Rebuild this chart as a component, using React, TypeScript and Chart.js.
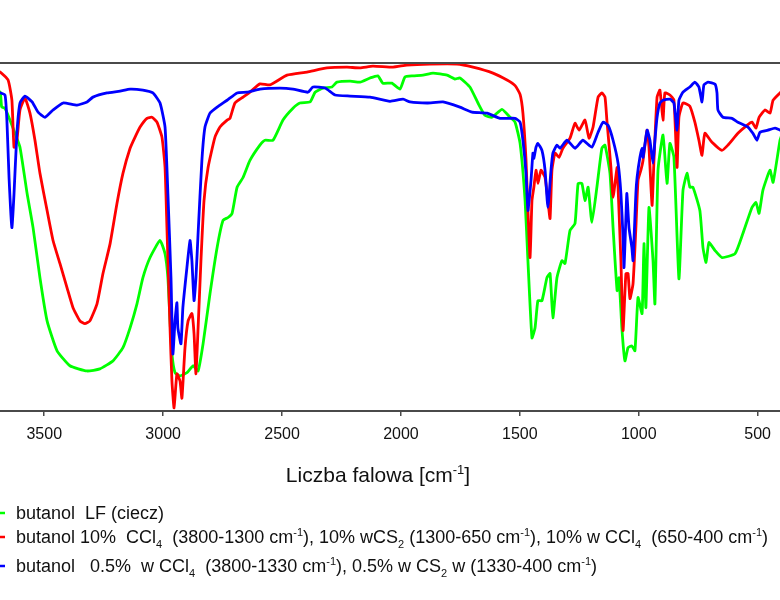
import React, { useEffect, useRef } from 'react';
import { Chart, registerables } from 'chart.js';

Chart.register(...registerables);

// Wavenumber tick labels (cm-1)
const wavenumberTicks = [3500, 3000, 2500, 2000, 1500, 1000, 500];

// [wavenumber cm-1, transmittance %]
const liquidSpectrum: [number, number][] = [
  [3720, 91.5], [3686, 91.7], [3679, 87.4], [3665, 87.0], [3644, 83.6], [3623, 79.8], [3602, 75.8], [3572, 62.5],
  [3547, 52.7], [3518, 38.3], [3488, 25.9], [3446, 17.3], [3392, 13.0], [3320, 11.5], [3266, 12.1], [3211, 14.4],
  [3169, 18.2], [3139, 23.9], [3110, 30.8], [3085, 38.3], [3055, 44.1], [3013, 49.0], [2992, 45.2], [2980, 38.3],
  [2971, 25.9], [2963, 16.4], [2950, 11.0], [2929, 10.1], [2900, 11.0], [2874, 13.0], [2853, 11.5], [2832, 19.3],
  [2803, 33.7], [2773, 47.0], [2748, 54.8], [2727, 55.6], [2710, 56.8], [2689, 64.3], [2664, 67.1], [2635, 72.0],
  [2593, 76.4], [2572, 77.8], [2538, 77.8], [2496, 83.6], [2454, 87.0], [2425, 88.5], [2382, 88.8], [2361, 91.6],
  [2328, 92.8], [2290, 93.1], [2269, 94.5], [2214, 94.8], [2172, 94.5], [2130, 95.7], [2097, 96.3], [2076, 94.2],
  [2038, 94.2], [2004, 92.5], [1983, 96.0], [1949, 96.3], [1907, 96.5], [1865, 97.1], [1806, 96.5], [1773, 95.4],
  [1752, 95.7], [1710, 93.1], [1676, 88.5], [1647, 85.0], [1617, 84.4], [1575, 86.7], [1541, 84.4], [1520, 83.0],
  [1499, 76.9], [1478, 60.5], [1466, 43.2], [1449, 21.0], [1436, 23.9], [1424, 31.7], [1407, 31.7], [1386, 38.3],
  [1373, 39.5], [1361, 26.8], [1344, 38.3], [1323, 43.2], [1310, 42.4], [1289, 51.9], [1268, 53.9], [1255, 65.4],
  [1239, 65.4], [1226, 60.5], [1213, 64.3], [1197, 54.2], [1176, 64.3], [1155, 75.5], [1142, 76.4], [1121, 68.3],
  [1108, 52.7], [1091, 34.6], [1083, 38.3], [1071, 23.9], [1058, 14.4], [1045, 18.2], [1029, 18.7], [1016, 17.3],
  [1003, 32.6], [986, 28.0], [978, 48.1], [970, 29.7], [957, 58.5], [940, 43.2], [932, 30.8], [919, 69.2],
  [898, 79.3], [881, 65.4], [869, 76.9], [852, 72.9], [831, 38.0], [814, 63.4], [797, 68.3], [785, 64.3],
  [772, 64.3], [743, 57.6], [730, 47.0], [717, 42.7], [705, 48.4], [679, 46.1], [650, 44.1], [595, 45.2],
  [562, 51.0], [524, 58.5], [507, 59.9], [494, 56.8], [478, 63.4], [448, 69.2], [435, 65.7], [406, 77.8], [395, 80.0],
];

const solution10Spectrum: [number, number][] = [
  [3720, 98.0], [3686, 97.4], [3652, 95.1], [3636, 89.3], [3627, 75.8], [3615, 77.8], [3602, 86.5], [3581, 89.9],
  [3560, 85.6], [3539, 77.8], [3518, 68.3], [3488, 57.6], [3463, 49.0], [3434, 42.4], [3404, 35.4], [3379, 29.7],
  [3350, 25.9], [3329, 25.1], [3308, 25.9], [3278, 30.8], [3253, 39.5], [3223, 48.1], [3194, 59.7], [3169, 68.3],
  [3139, 75.5], [3118, 78.7], [3097, 81.6], [3068, 84.1], [3047, 84.4], [3026, 83.0], [3005, 78.7], [2992, 70.0],
  [2984, 52.7], [2971, 23.9], [2963, 8.6], [2954, 0.9], [2942, 10.7], [2929, 8.6], [2921, 3.7], [2908, 18.2],
  [2895, 25.9], [2879, 28.0], [2870, 22.2], [2862, 10.7], [2853, 23.9], [2841, 43.2], [2828, 60.5], [2811, 70.0],
  [2782, 78.7], [2761, 81.6], [2731, 83.6], [2719, 84.1], [2698, 88.5], [2664, 90.2], [2635, 91.6], [2593, 94.0],
  [2551, 93.7], [2479, 96.5], [2395, 97.4], [2311, 98.6], [2227, 98.8], [2172, 98.6], [2118, 99.1], [2033, 98.8],
  [1975, 99.4], [1878, 99.7], [1764, 99.7], [1697, 98.8], [1613, 97.1], [1554, 95.1], [1520, 93.5], [1499, 91.0],
  [1487, 85.6], [1474, 72.0], [1466, 57.6], [1457, 44.1], [1449, 60.5], [1441, 64.3], [1432, 69.2], [1424, 65.4],
  [1411, 69.2], [1394, 67.1], [1382, 60.5], [1373, 55.3], [1365, 69.2], [1352, 74.1], [1335, 72.9], [1319, 75.5],
  [1289, 78.4], [1268, 82.7], [1251, 80.7], [1226, 83.6], [1209, 78.4], [1192, 81.6], [1171, 90.2], [1155, 91.4],
  [1142, 90.2], [1134, 83.6], [1117, 70.0], [1108, 61.4], [1091, 70.0], [1087, 64.3], [1075, 43.2], [1066, 23.1],
  [1054, 39.5], [1045, 39.5], [1037, 32.3], [1024, 36.6], [1012, 52.7], [1003, 66.3], [991, 69.2], [982, 72.0],
  [965, 80.7], [957, 75.8], [944, 59.1], [936, 72.0], [923, 90.2], [911, 92.2], [898, 83.6], [890, 91.4],
  [869, 90.8], [852, 89.3], [839, 70.0], [831, 84.4], [814, 88.5], [785, 87.6], [764, 83.0], [747, 77.8],
  [734, 73.5], [722, 79.8], [692, 77.2], [650, 74.9], [625, 76.4], [583, 79.8], [545, 82.1], [524, 83.0],
  [507, 81.3], [494, 84.4], [469, 86.5], [448, 85.6], [435, 89.3], [406, 91.4], [395, 92.0],
];

const solution05Spectrum: [number, number][] = [
  [3720, 91.0], [3686, 91.4], [3665, 90.8], [3657, 83.6], [3648, 67.1], [3636, 52.7], [3627, 62.5], [3615, 79.8],
  [3602, 88.5], [3581, 90.5], [3551, 88.8], [3526, 85.9], [3497, 84.4], [3463, 86.5], [3421, 88.5], [3362, 87.9],
  [3320, 88.8], [3295, 90.2], [3236, 91.4], [3181, 91.9], [3139, 92.5], [3085, 92.2], [3043, 91.4], [3013, 88.5],
  [2992, 81.6], [2980, 62.5], [2967, 38.3], [2959, 16.4], [2950, 25.9], [2942, 31.1], [2938, 23.9], [2925, 19.3],
  [2917, 29.7], [2900, 41.2], [2887, 49.0], [2879, 43.2], [2870, 31.7], [2862, 38.3], [2853, 51.0], [2837, 72.0],
  [2824, 81.6], [2803, 85.6], [2773, 87.3], [2731, 89.3], [2689, 91.4], [2647, 91.6], [2593, 92.5], [2509, 92.8],
  [2454, 92.5], [2391, 91.6], [2370, 93.1], [2319, 92.8], [2277, 90.8], [2214, 90.5], [2130, 90.2], [2046, 89.0],
  [1991, 89.6], [1962, 88.8], [1890, 88.5], [1823, 88.8], [1752, 87.3], [1701, 85.9], [1638, 85.6], [1583, 84.1],
  [1520, 84.1], [1499, 83.0], [1487, 77.8], [1474, 68.3], [1466, 57.6], [1453, 66.3], [1445, 74.1], [1441, 72.6],
  [1432, 75.8], [1424, 76.9], [1407, 74.9], [1394, 69.2], [1382, 58.5], [1369, 69.2], [1361, 74.1], [1344, 76.4],
  [1331, 75.5], [1302, 77.8], [1268, 75.5], [1235, 77.8], [1197, 75.8], [1171, 80.1], [1150, 83.0], [1129, 82.1],
  [1108, 77.8], [1087, 71.2], [1075, 62.5], [1066, 49.9], [1062, 41.2], [1054, 55.6], [1050, 62.5], [1041, 52.7],
  [1029, 47.0], [1024, 43.2], [1012, 62.5], [1007, 67.1], [995, 72.9], [986, 75.5], [982, 72.9], [965, 80.7],
  [953, 77.8], [940, 71.2], [932, 77.8], [923, 84.4], [911, 88.5], [898, 89.3], [869, 89.6], [852, 88.5],
  [839, 80.7], [831, 89.3], [814, 91.6], [785, 93.1], [764, 94.5], [747, 93.1], [734, 88.8], [726, 93.7],
  [709, 94.5], [679, 93.9], [671, 91.4], [667, 86.5], [646, 84.4], [608, 84.1], [583, 83.0], [541, 81.6],
  [520, 79.8], [503, 77.8], [490, 80.1], [457, 80.7], [427, 81.3], [406, 80.7], [395, 80.7],
];

const seriesLabels = [
  'butanol  LF (ciecz)',
  'butanol 10%  CCl_{4}  (3800-1300 cm^{-1}), 10% wCS_{2} (1300-650 cm^{-1}), 10% w CCl_{4}  (650-400 cm^{-1})',
  'butanol   0.5%  w CCl_{4}  (3800-1330 cm^{-1}), 0.5% w CS_{2} w (1330-400 cm^{-1})',
];
const seriesColors = ['#00ff00', '#ff0000', '#0000ff'];
const axisTitle = 'Liczba falowa [cm^{-1}]';

const FONT = '"Liberation Sans", Arial, sans-serif';
const AXIS_COLOR = '#4a4a4a';

type Part = { t: string; k: number };
function parseRich(s: string): Part[] {
  const parts: Part[] = [];
  const re = /(_|\^)\{([^}]*)\}/g;
  let last = 0;
  let m: RegExpExecArray | null;
  while ((m = re.exec(s))) {
    if (m.index > last) parts.push({ t: s.slice(last, m.index), k: 0 });
    parts.push({ t: m[2], k: m[1] === '^' ? 1 : -1 });
    last = re.lastIndex;
  }
  if (last < s.length) parts.push({ t: s.slice(last), k: 0 });
  return parts;
}

function drawRich(ctx: CanvasRenderingContext2D, s: string, x: number, y: number, size: number, align: 'left' | 'center') {
  const parts = parseRich(s);
  const small = Math.round(size * 0.62);
  const fontFor = (k: number) => `${k ? small : size}px ${FONT}`;
  let total = 0;
  const widths = parts.map((p) => {
    ctx.font = fontFor(p.k);
    const w = ctx.measureText(p.t).width;
    total += w;
    return w;
  });
  let cx = align === 'center' ? x - total / 2 : x;
  ctx.textBaseline = 'alphabetic';
  ctx.textAlign = 'left';
  parts.forEach((p, i) => {
    ctx.font = fontFor(p.k);
    const dy = p.k === 1 ? -size * 0.4 : p.k === -1 ? size * 0.25 : 0;
    ctx.fillText(p.t, cx, y + dy);
    cx += widths[i];
  });
}

const decorPlugin = {
  id: 'decor',
  afterDraw(chart: any) {
    const ctx: CanvasRenderingContext2D = chart.ctx;
    const area = chart.chartArea;
    ctx.save();
    // top frame line
    ctx.strokeStyle = AXIS_COLOR;
    ctx.lineWidth = 2;
    ctx.beginPath();
    ctx.moveTo(0, area.top);
    ctx.lineTo(chart.width, area.top);
    ctx.stroke();
    // axis title
    ctx.fillStyle = '#111';
    drawRich(ctx, axisTitle, (area.left + area.right) / 2 - 12, 482, 21, 'center');
    // legend
    const baselines = [519, 543, 572];
    seriesLabels.forEach((label, i) => {
      const yb = baselines[i];
      ctx.strokeStyle = seriesColors[i];
      ctx.lineWidth = 2.5;
      ctx.beginPath();
      ctx.moveTo(-10, yb - 6);
      ctx.lineTo(5, yb - 6);
      ctx.stroke();
      ctx.fillStyle = '#111';
      drawRich(ctx, label, 16, yb, 18, 'left');
    });
    ctx.restore();
  },
};

export default function App() {
  const canvasRef = useRef<HTMLCanvasElement | null>(null);

  useEffect(() => {
    if (!canvasRef.current) return;
    const toPoints = (arr: [number, number][]) => arr.map(([x, y]) => ({ x, y }));
    const series = [liquidSpectrum, solution10Spectrum, solution05Spectrum];
    const chart = new Chart(canvasRef.current, {
      type: 'scatter',
      data: {
        datasets: series.map((s, i) => ({
          label: seriesLabels[i],
          data: toPoints(s),
          showLine: true,
          borderColor: seriesColors[i],
          backgroundColor: seriesColors[i],
          borderWidth: 2.8,
          pointRadius: 0,
          tension: 0.15,
          order: 2 - i,
        })),
      },
      options: {
        animation: false,
        responsive: false,
        events: [],
        layout: { padding: { top: 63, left: 0, right: 0, bottom: 0 } },
        plugins: { legend: { display: false }, tooltip: { enabled: false }, title: { display: false } },
        scales: {
          x: {
            type: 'linear',
            reverse: true,
            min: 406,
            max: 3686,
            afterBuildTicks: (scale: any) => {
              scale.ticks = wavenumberTicks.map((v) => ({ value: v }));
            },
            afterFit: (scale: any) => {
              scale.height = 189;
            },
            grid: { drawOnChartArea: false, drawTicks: true, tickLength: 5, color: AXIS_COLOR, lineWidth: 1.5 },
            border: { display: true, color: AXIS_COLOR, width: 2 },
            ticks: {
              font: { family: FONT, size: 16 },
              color: '#111',
              padding: 9,
              maxRotation: 0,
              autoSkip: false,
              callback: (v: any) => String(v),
            },
          },
          y: { display: false, min: 0, max: 100 },
        },
      },
      plugins: [decorPlugin],
    } as any);
    return () => chart.destroy();
  }, []);

  return (
    <div style={{ position: 'absolute', left: 0, top: 0, width: 780, height: 600, background: '#fff' }}>
      <canvas ref={canvasRef} width={780} height={600} style={{ width: 780, height: 600 }} />
    </div>
  );
}
